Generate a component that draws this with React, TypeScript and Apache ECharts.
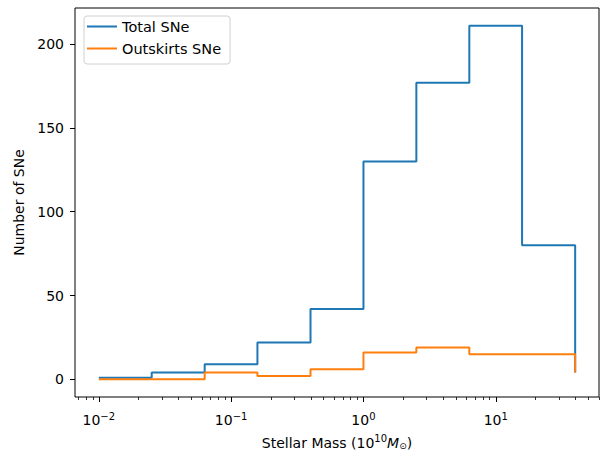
import React, { useEffect, useRef } from "react";
import * as echarts from "echarts";

const binEdges = [0.01, 0.0251, 0.0631, 0.158, 0.398, 1.0, 2.51, 6.31, 15.8, 39.8];
const totalCounts = [1, 4, 9, 22, 42, 130, 177, 211, 80, 4];
const outskirtsCounts = [0, 0, 4, 2, 6, 16, 19, 15, 15, 4];
const seriesNames = ["Total SNe", "Outskirts SNe"];
const yTicks = [0, 50, 100, 150, 200];
const xMinorTicks = [
  0.007, 0.008, 0.009,
  0.02, 0.03, 0.04, 0.05, 0.06, 0.07, 0.08, 0.09,
  0.2, 0.3, 0.4, 0.5, 0.6, 0.7, 0.8, 0.9,
  2, 3, 4, 5, 6, 7, 8, 9,
  20, 30, 40, 50, 60,
];

const LOG_MIN = -2.18;
const LOG_MAX = 1.78;
const FONT = "DejaVu Sans";
const FS = 14;

export default function App() {
  const ref = useRef<HTMLDivElement>(null);
  useEffect(() => {
    if (!ref.current) return;
    const chart = echarts.init(ref.current, null, { renderer: "svg" });
    const fmtExp = (v: number) => {
      const e = Math.round(Math.log10(v));
      return `{b|10}{s|${e < 0 ? "\u2212" + -e : e}}`;
    };
    chart.setOption({
      animation: false,
      backgroundColor: "#fff",
      textStyle: { fontFamily: FONT },
      grid: {
        left: 75,
        right: 4,
        top: 8,
        bottom: 57,
        show: true,
        borderColor: "#000",
        borderWidth: 1,
        backgroundColor: "transparent",
      },
      legend: {
        orient: "vertical",
        left: 84,
        top: 16,
        padding: [3, 9, 8, 3],
        icon: "rect",
        itemWidth: 30,
        itemHeight: 2,
        itemGap: 7,
        itemTextGap: 14,
        borderColor: "#d0d0d0",
        borderWidth: 1,
        borderRadius: 3,
        backgroundColor: "rgba(255,255,255,0.8)",
        textStyle: { fontFamily: FONT, fontSize: 14.5, color: "#000", lineHeight: 15 },
        data: seriesNames,
      },
      xAxis: [
        {
          type: "log",
          logBase: 10,
          min: Math.pow(10, LOG_MIN),
          max: Math.pow(10, LOG_MAX),
          axisLine: { show: false, onZero: false },
          axisTick: { show: true, length: 5, lineStyle: { color: "#000", width: 1 } },
          splitLine: { show: false },
          axisLabel: {
            showMinLabel: false,
            showMaxLabel: false,
            margin: 14,
            color: "#000",
            formatter: fmtExp,
            rich: {
              b: { fontFamily: FONT, fontSize: FS, color: "#000", lineHeight: 16, verticalAlign: "bottom" },
              s: { fontFamily: FONT, fontSize: 10, color: "#000", lineHeight: 9, verticalAlign: "top" },
            },
          },
          name: "{b|Stellar Mass (10}{s|10}{i|M}{u|\u2299}{b|)}",
          nameLocation: "middle",
          nameGap: 36,
          nameTextStyle: {
            color: "#000",
            rich: {
              b: { fontFamily: FONT, fontSize: FS, color: "#000", lineHeight: 17, verticalAlign: "bottom" },
              s: { fontFamily: FONT, fontSize: 10, color: "#000", lineHeight: 9, verticalAlign: "top" },
              i: { fontFamily: FONT, fontSize: FS, fontStyle: "italic", color: "#000", lineHeight: 17, verticalAlign: "bottom" },
              u: { fontFamily: FONT, fontSize: 9, color: "#000", lineHeight: 9, verticalAlign: "bottom" },
            },
          },
        },
        {
          type: "value",
          min: LOG_MIN,
          max: LOG_MAX,
          position: "bottom",
          axisLine: { show: false, onZero: false },
          axisLabel: { show: false },
          splitLine: { show: false },
          axisTick: {
            show: true,
            length: 3,
            customValues: xMinorTicks.map((v) => Math.log10(v)),
            lineStyle: { color: "#000", width: 0.8 },
          },
        },
      ],
      yAxis: {
        type: "value",
        min: -10.55,
        max: 221.55,
        axisLine: { show: false, onZero: false },
        splitLine: { show: false },
        axisTick: { show: true, length: 5, customValues: yTicks, lineStyle: { color: "#000" } },
        axisLabel: {
          customValues: yTicks,
          margin: 11,
          fontFamily: FONT,
          fontSize: FS,
          color: "#000",
        },
        name: "Number of SNe",
        nameLocation: "middle",
        nameRotate: 90,
        nameGap: 46,
        nameTextStyle: { fontFamily: FONT, fontSize: FS, color: "#000" },
      },
      series: [
        {
          name: seriesNames[0],
          type: "line",
          step: "end",
          xAxisIndex: 0,
          symbol: "none",
          color: "#1f77b4",
          lineStyle: { width: 2, color: "#1f77b4" },
          data: binEdges.map((x, i) => [x, totalCounts[i]]),
        },
        {
          name: seriesNames[1],
          type: "line",
          step: "end",
          xAxisIndex: 0,
          symbol: "none",
          color: "#ff7f0e",
          lineStyle: { width: 2, color: "#ff7f0e" },
          data: binEdges.map((x, i) => [x, outskirtsCounts[i]]),
        },
      ],
    });
    return () => chart.dispose();
  }, []);
  return <div ref={ref} style={{ width: 603, height: 455, position: "absolute", left: 0, top: 0 }} />;
}
